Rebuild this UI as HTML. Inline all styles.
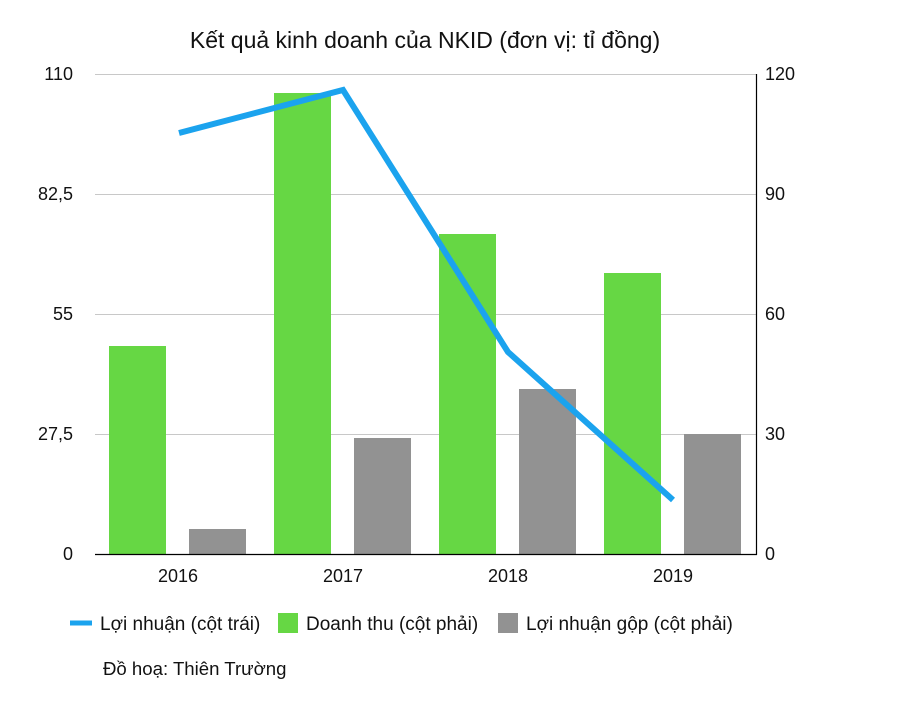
<!DOCTYPE html>
<html><head><meta charset="utf-8"><style>
body{margin:0;background:#fff;}
svg text{font-family:"Liberation Sans",Arial,sans-serif;fill:#111;}
</style></head><body>
<svg width="900" height="703" xmlns="http://www.w3.org/2000/svg">
<text x="425" y="48" font-size="23" text-anchor="middle">Kết quả kinh doanh của NKID (đơn vị: tỉ đồng)</text>
<g stroke="#c8c8c8" stroke-width="1">
<line x1="95" y1="74.5" x2="756" y2="74.5"/>
<line x1="95" y1="194.5" x2="756" y2="194.5"/>
<line x1="95" y1="314.5" x2="756" y2="314.5"/>
<line x1="95" y1="434.5" x2="756" y2="434.5"/>
</g>
<g font-size="18">
<text x="73" y="80" text-anchor="end">110</text>
<text x="73" y="200" text-anchor="end">82,5</text>
<text x="73" y="320" text-anchor="end">55</text>
<text x="73" y="440" text-anchor="end">27,5</text>
<text x="73" y="560" text-anchor="end">0</text>
<text x="765" y="80">120</text>
<text x="765" y="200">90</text>
<text x="765" y="320">60</text>
<text x="765" y="440">30</text>
<text x="765" y="560">0</text>
<text x="178" y="582" text-anchor="middle">2016</text>
<text x="343" y="582" text-anchor="middle">2017</text>
<text x="508" y="582" text-anchor="middle">2018</text>
<text x="673" y="582" text-anchor="middle">2019</text>
</g>
<g fill="#66d744">
<rect x="109" y="346" width="57" height="208"/>
<rect x="274" y="93" width="57" height="461"/>
<rect x="439" y="234" width="57" height="320"/>
<rect x="604" y="273" width="57" height="281"/>
</g>
<g fill="#929292">
<rect x="189" y="529" width="57" height="25"/>
<rect x="354" y="438" width="57" height="116"/>
<rect x="519" y="389" width="57" height="165"/>
<rect x="684" y="434" width="57" height="120"/>
</g>
<line x1="95" y1="554.5" x2="757" y2="554.5" stroke="#000" stroke-width="1.2"/>
<line x1="756.5" y1="74" x2="756.5" y2="555" stroke="#000" stroke-width="1.2"/>
<polyline points="179,133 343,90 508,352 673,500" fill="none" stroke="#1ba3ee" stroke-width="6" stroke-linejoin="miter"/>
<line x1="70" y1="623" x2="92" y2="623" stroke="#1ba3ee" stroke-width="5"/>
<rect x="278" y="613" width="20" height="20" fill="#66d744"/>
<rect x="498" y="613" width="20" height="20" fill="#929292"/>
<g font-size="19">
<text x="100" y="630">Lợi nhuận (cột trái)</text>
<text x="306" y="630">Doanh thu (cột phải)</text>
<text x="526" y="630">Lợi nhuận gộp (cột phải)</text>
</g>
<text x="103" y="675" font-size="18.6">Đồ hoạ: Thiên Trường</text>
</svg>
</body></html>
